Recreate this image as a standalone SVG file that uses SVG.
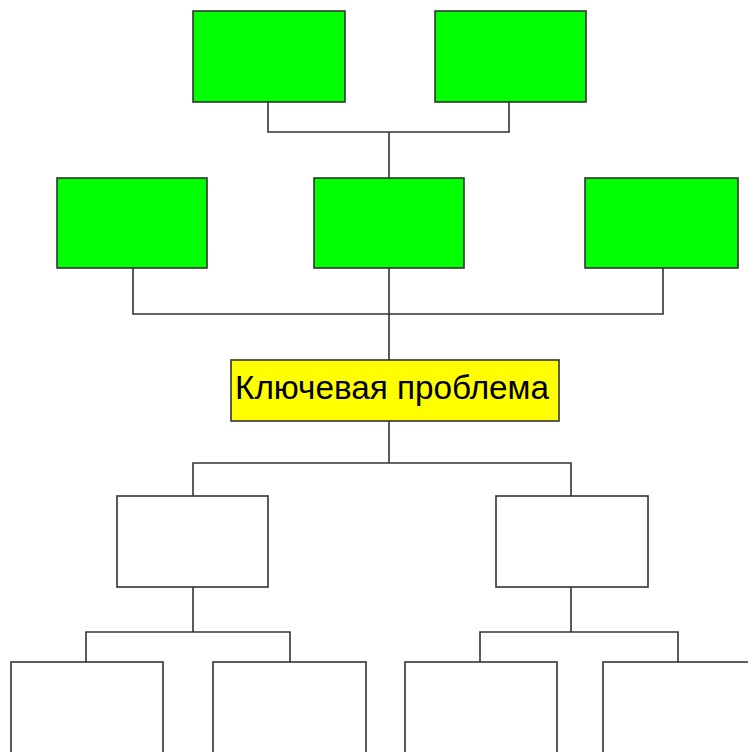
<svg xmlns="http://www.w3.org/2000/svg" width="748" height="752" viewBox="0 0 748 752">
<style>
.box{stroke:#333;stroke-width:1.6}
.green{fill:#00ff00}
.yellow{fill:#ffff00}
.white{fill:#ffffff}
.conn{fill:none;stroke:#333;stroke-width:1.6}
.label{font-family:"Liberation Sans",Arial,sans-serif;font-size:33px;fill:#000}
</style>
<rect width="748" height="752" fill="#ffffff"/>
<g id="connectors">
<path class="conn" d="M268 102V132H509V102M389 132V178"/>
<path class="conn" d="M389 268V360M133 268V314H663V268"/>
<path class="conn" d="M389 421V463M193 496V463H571V496"/>
<path class="conn" d="M193 587V632M86 662V632H290V662"/>
<path class="conn" d="M571 587V632M480 662V632H678V662"/>
</g>
<g id="top-left"><rect class="box green" x="193" y="11" width="152" height="91"/></g>
<g id="top-right"><rect class="box green" x="435" y="11" width="151" height="91"/></g>
<g id="mid-left"><rect class="box green" x="57" y="178" width="150" height="90"/></g>
<g id="mid-center"><rect class="box green" x="314" y="178" width="150" height="90"/></g>
<g id="mid-right"><rect class="box green" x="585" y="178" width="153" height="90"/></g>
<g id="key-problem"><rect class="box yellow" x="231" y="360" width="328" height="61"/>
<text class="label" x="235" y="399" textLength="314" lengthAdjust="spacingAndGlyphs">Ключевая проблема</text></g>
<g id="sub-left"><rect class="box white" x="117" y="496" width="151" height="91"/></g>
<g id="sub-right"><rect class="box white" x="496" y="496" width="152" height="91"/></g>
<g id="leaf-1"><rect class="box white" x="11" y="662" width="152" height="100"/></g>
<g id="leaf-2"><rect class="box white" x="213" y="662" width="153" height="100"/></g>
<g id="leaf-3"><rect class="box white" x="405" y="662" width="152" height="100"/></g>
<g id="leaf-4"><rect class="box white" x="603" y="662" width="160" height="100"/></g>
</svg>
